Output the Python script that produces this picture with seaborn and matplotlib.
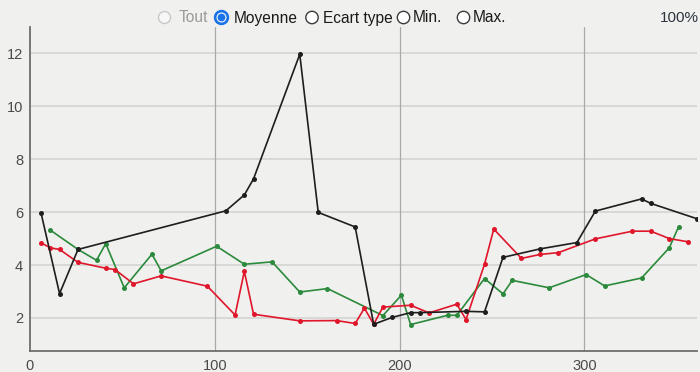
import matplotlib
matplotlib.use("Agg")
import matplotlib.pyplot as plt
from matplotlib.patches import Circle
import numpy as np
import pandas as pd
import seaborn as sns

# Daily averages (day of year) for three stations
black_x = [6, 16, 26, 106, 116, 121, 146, 156, 176, 186, 196, 206, 211, 236, 246,
           256, 276, 296, 306, 331, 336, 361]
black_y = [5.96, 2.92, 4.59, 6.05, 6.65, 7.26, 11.97, 5.99, 5.44, 1.76, 2.02, 2.2,
           2.2, 2.25, 2.23, 4.29, 4.61, 4.85, 6.04, 6.5, 6.33, 5.75]

red_x = [6, 11, 16, 26, 41, 46, 56, 71, 96, 111, 116, 121, 146, 166, 176, 181, 186,
         191, 206, 216, 231, 236, 246, 251, 266, 276, 286, 306, 326, 336, 346, 356]
red_y = [4.84, 4.65, 4.59, 4.1, 3.88, 3.83, 3.29, 3.59, 3.2, 2.11, 3.76, 2.14, 1.89,
         1.9, 1.79, 2.37, 1.76, 2.41, 2.48, 2.19, 2.52, 1.94, 4.03, 5.36, 4.25, 4.4,
         4.47, 4.99, 5.28, 5.28, 5.0, 4.88]

green_x = [11, 26, 36, 41, 51, 66, 71, 101, 116, 131, 146, 161, 191, 201, 206, 226,
           231, 246, 256, 261, 281, 301, 311, 331, 346, 351]
green_y = [5.32, 4.59, 4.18, 4.81, 3.14, 4.41, 3.78, 4.71, 4.03, 4.12, 2.98, 3.11,
           2.09, 2.86, 1.75, 2.1, 2.1, 3.49, 2.91, 3.42, 3.14, 3.64, 3.21, 3.51, 4.65,
           5.44]

x_ticks = [0, 100, 200, 300]
y_ticks = [2, 4, 6, 8, 10, 12]
options = ["Tout", "Moyenne", "Ecart type", "Min.", "Max."]
zoom_label = "100%"

series_names = ["s3", "s2", "s1"]
df = pd.concat([
    pd.DataFrame({"x": green_x, "y": green_y, "serie": "s3"}),
    pd.DataFrame({"x": red_x, "y": red_y, "serie": "s2"}),
    pd.DataFrame({"x": black_x, "y": black_y, "serie": "s1"}),
], ignore_index=True)
palette = {"s1": "#1e1e1e", "s2": "#e0162b", "s3": "#2b8a3b"}

sns.set_style("white")
plt.rcParams["font.family"] = ["Liberation Sans", "DejaVu Sans"]

BG = "#f0f0ee"
fig = plt.figure(figsize=(7.0, 3.72), dpi=100, facecolor=BG)
ax = fig.add_axes([30 / 700, 1 - 351 / 372, 667 / 700, 324 / 372])
ax.set_facecolor(BG)

sns.lineplot(data=df, x="x", y="y", hue="serie", hue_order=series_names,
             palette=palette, marker="o", markersize=3.6, markeredgewidth=0,
             linewidth=1.2, sort=False, estimator=None, legend=False, ax=ax)

ax.set_xlim(0, 361)
ax.set_ylim(0.75, 13.0)
ax.set_xticks(x_ticks)
ax.set_yticks(y_ticks)
ax.set_xlabel("")
ax.set_ylabel("")

# Grid: soft horizontal lines, darker vertical lines
for yv in y_ticks:
    ax.axhline(yv, color="#d4d4d2", linewidth=1.2, zorder=0)
for xv in x_ticks[1:]:
    ax.axvline(xv, color="#a9a9a7", linewidth=0.9, zorder=0)

for side in ["top", "right"]:
    ax.spines[side].set_visible(False)
for side in ["left", "bottom"]:
    ax.spines[side].set_color("#6e6e6e")
    ax.spines[side].set_linewidth(1.3)

ax.tick_params(axis="both", length=0, labelsize=10.5, labelcolor="#4a4a4a")
ax.tick_params(axis="y", pad=5)
ax.tick_params(axis="x", pad=6)

# Overlay in pixel coordinates for the option bar
ov = fig.add_axes([0, 0, 1, 1], facecolor="none")
ov.set_xlim(0, 700)
ov.set_ylim(372, 0)
ov.axis("off")

circle_x = [164.5, 221.5, 312, 403.5, 463.5]
text_x = [179, 234, 323, 413, 473]
cy = 17.5
for i, (label, cxp, txp) in enumerate(zip(options, circle_x, text_x)):
    if i == 0:
        ov.add_patch(Circle((cxp, cy), 6.0, facecolor="#f7f7f7", edgecolor="#c8c8c8", lw=1.0))
        color = "#9a9a9a"
    elif i == 1:
        ov.add_patch(Circle((cxp, cy), 7.0, facecolor="#1a73e8", edgecolor="#1a73e8", lw=1.0))
        ov.add_patch(Circle((cxp, cy), 5.0, facecolor="white", edgecolor="none"))
        ov.add_patch(Circle((cxp, cy), 3.9, facecolor="#1a73e8", edgecolor="none"))
        color = "#1a1a1a"
    else:
        ov.add_patch(Circle((cxp, cy), 6.2, facecolor="white", edgecolor="#3c3c3c", lw=1.0))
        color = "#1a1a1a"
    ov.text(txp, cy + 0.5, label, fontsize=11.2, color=color, va="center", ha="left")

ov.text(699, 18, zoom_label, fontsize=11, color="#2c3440", va="center", ha="right")

fig.savefig("out.png", dpi=100, facecolor=BG)
